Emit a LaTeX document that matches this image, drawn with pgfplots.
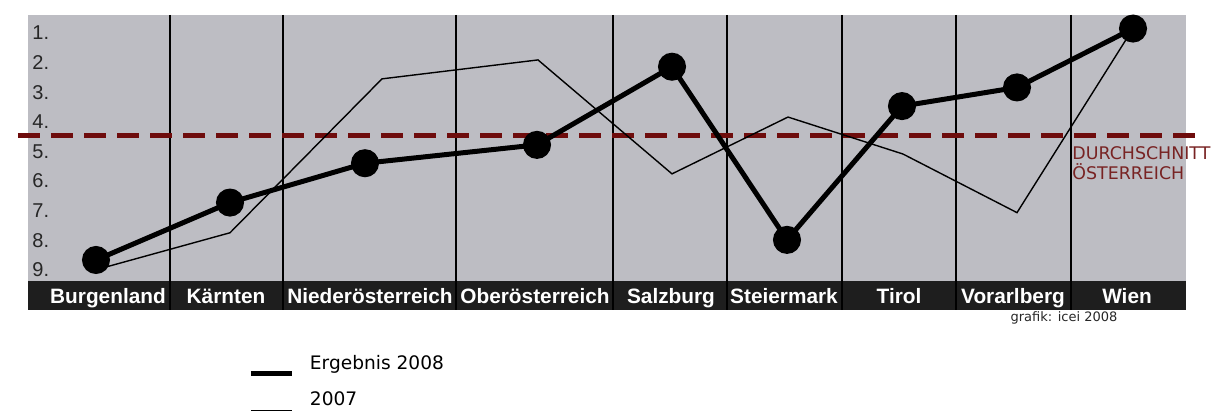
\documentclass[border=0pt]{standalone}
\usepackage{fontspec}
\setmainfont{Liberation Sans}
\newfontfamily\dejavu{DejaVu Sans}
\usepackage{pgfplots}
\pgfplotsset{compat=1.18}
\definecolor{bggray}{RGB}{189,189,195}
\definecolor{bardark}{RGB}{30,30,30}
\definecolor{avgred}{RGB}{110,12,12}
\definecolor{avgtext}{RGB}{120,35,35}

\begin{document}
\begin{tikzpicture}
\begin{axis}[
  at={(0pt,0pt)}, anchor=south west,
  scale only axis, width=579pt, height=147.5pt,
  xmin=28, xmax=1186, ymin=0.392, ymax=10.36, y dir=reverse,
  clip=false,
  axis line style={draw=none},
  tick style={draw=none},
  axis background/.style={fill=bggray, path picture={
    \fill[bardark] (path picture bounding box.south west) rectangle ([yshift=14.5pt]path picture bounding box.south east);}},
  xtick={108,226,370,535,671,784,899,1013,1127},
  xticklabels={Burgenland,Kärnten,Niederösterreich,Oberösterreich,Salzburg,Steiermark,Tirol,Vorarlberg,Wien},
  xticklabel style={anchor=base, inner sep=0pt, yshift=3.3pt, text=white,
    font=\bfseries\fontsize{10.4}{12}\selectfont},
  extra x ticks={170,283,456,613,727,842,956,1071},
  extra x tick labels={},
  extra x tick style={grid=major, major grid style={black, line width=0.6pt}},
  ytick={1,2,3,4,5,6,7,8,9},
  yticklabels={1.,2.,3.,4.,5.,6.,7.,8.,9.},
  yticklabel style={anchor=west, inner sep=0pt, xshift=2pt, text=black!85,
    font=\fontsize{10}{12}\selectfont},
  reverse legend,
  legend image code/.code={
    \draw[#1, mark=none] (0pt,-5pt) -- (20.5pt,-5pt);
    \path[draw=none, fill=none] (0pt,0pt) -- (29.5pt,0pt);},
  legend style={draw=none, fill=none, inner sep=0pt, at={(rel axis cs:0.19,-0.151)},
    anchor=north west, font=\dejavu\fontsize{9.3}{11}\selectfont,
    nodes={inner sep=0pt}, row sep=8pt, column sep=0pt},
  legend cell align=left,
]
% Durchschnitt Oesterreich
\addplot[avgred, line width=2.5pt, dash pattern=on 11pt off 5.5pt, forget plot]
  coordinates {(18,4.48) (1198,4.48)};
% 2007
\addplot[black, line width=0.7pt] coordinates {
  (96,9.0) (230,7.75) (382,2.55) (538,1.91) (672,5.76)
  (788,3.84) (903,5.09) (1017,7.07) (1133,0.85)};
\addlegendentry{2007}
% Ergebnis 2008
\addplot[black, line width=2.5pt, mark=*, mark size=5.75pt] coordinates {
  (96,8.67) (230,6.73) (365,5.40) (537,4.78) (672,2.14)
  (787,7.99) (902,3.47) (1017,2.84) (1133,0.85)};
\addlegendentry{Ergebnis 2008}
\node[anchor=west, inner sep=0pt, text=avgtext, align=left,
  font=\dejavu\fontsize{8.7}{10}\selectfont] at (axis cs:1072,5.39)
  {DURCHSCHNITT\\ÖSTERREICH};
\node[inner sep=0pt, text=black!85, font=\dejavu\fontsize{6.5}{7}\selectfont]
  at (axis cs:1064,10.63) {grafik: icei 2008};
\end{axis}
\pgfresetboundingbox
\path (-14pt,155pt) rectangle (593pt,-52pt);
\end{tikzpicture}
\end{document}
